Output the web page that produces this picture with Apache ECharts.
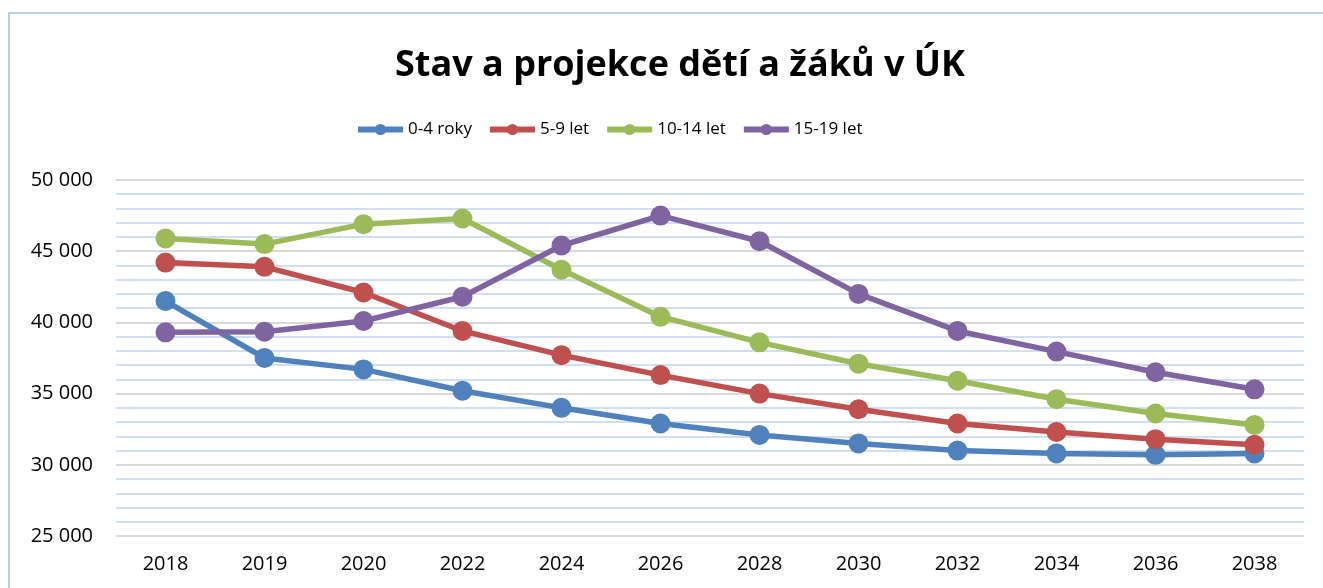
<!DOCTYPE html>
<html>
<head>
<meta charset="utf-8">
<title>Stav a projekce dětí a žáků v ÚK</title>
<script src="https://cdn.jsdelivr.net/npm/echarts@6/dist/echarts.min.js"></script>
<style>
    html, body {
        margin: 0;
        padding: 0;
        background: #fff;
    }
    #chart {
        width: 1323px;
        height: 588px;
    }
</style>
</head>
<body>
<div id="chart"></div>
<script>
// data
const years = ['2018', '2019', '2020', '2022', '2024', '2026', '2028', '2030', '2032', '2034', '2036', '2038'];
const age0to4 = [41500, 37500, 36700, 35200, 34000, 32900, 32100, 31500, 31000, 30800, 30700, 30800];
const age5to9 = [44200, 43900, 42100, 39400, 37700, 36300, 35000, 33900, 32900, 32300, 31800, 31400];
const age10to14 = [45900, 45500, 46900, 47300, 43700, 40400, 38600, 37100, 35900, 34600, 33600, 32800];
const age15to19 = [39300, 39350, 40100, 41800, 45400, 47500, 45700, 42000, 39400, 37950, 36500, 35300];
const seriesNames = ['0-4 roky', '5-9 let', '10-14 let', '15-19 let'];
const colors = ['#4f81bd', '#c0504d', '#9bbb59', '#8064a2'];

const font = '"Open Sans", "Liberation Sans", sans-serif';

function makeSeries(name, data, color) {
    return {
        name: name,
        type: 'line',
        data: data,
        symbol: 'circle',
        symbolSize: 20,
        lineStyle: {width: 5.5, color: color},
        itemStyle: {color: color},
        emphasis: {disabled: true}
    };
}

const chart = echarts.init(document.getElementById('chart'));
chart.setOption({
    animation: false,
    color: colors,
    textStyle: {fontFamily: font},
    title: {
        text: 'Stav a projekce dětí a žáků v ÚK',
        left: 390,
        top: 43,
        textStyle: {fontFamily: font, fontSize: 36, fontWeight: 'bold', color: '#000'}
    },
    legend: {
        top: 116,
        left: 350,
        itemWidth: 45,
        itemHeight: 14,
        itemGap: 15,
        lineStyle: {width: 6},
        textStyle: {fontFamily: font, fontSize: 17, color: '#000'},
        data: seriesNames
    },
    grid: {
        left: 116,
        right: 19,
        top: 180,
        bottom: 52
    },
    graphic: [{
        type: 'rect',
        shape: {x: 9, y: 13, width: 1400, height: 700},
        style: {fill: 'none', stroke: '#b9cde5', lineWidth: 2},
        silent: true
    }],
    xAxis: {
        type: 'category',
        data: years,
        boundaryGap: true,
        axisLine: {show: false},
        axisTick: {show: false},
        axisLabel: {fontFamily: font, fontSize: 20, color: '#000', margin: 18}
    },
    yAxis: {
        type: 'value',
        min: 25000,
        max: 50000,
        interval: 5000,
        axisLine: {show: false},
        axisTick: {show: false},
        axisLabel: {
            fontFamily: font,
            fontSize: 20,
            color: '#000',
            margin: 23,
            formatter: v => String(v).replace(/\B(?=(\d{3})+(?!\d))/g, ' ')
        },
        splitLine: {show: true, lineStyle: {color: '#d9d9d9', width: 2}},
        minorTick: {show: false, splitNumber: 5},
        minorSplitLine: {show: true, lineStyle: {color: '#c3d5ec', width: 1.5}}
    },
    series: [
        makeSeries(seriesNames[0], age0to4, colors[0]),
        makeSeries(seriesNames[1], age5to9, colors[1]),
        makeSeries(seriesNames[2], age10to14, colors[2]),
        makeSeries(seriesNames[3], age15to19, colors[3])
    ]
});
</script>
</body>
</html>
